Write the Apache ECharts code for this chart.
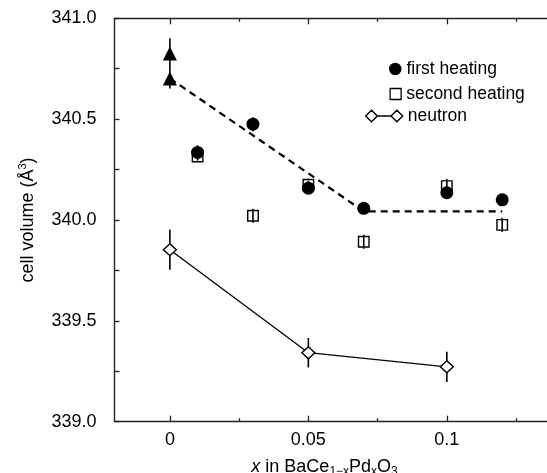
<!DOCTYPE html>
<html>
<head>
<meta charset="utf-8">
<script src="https://cdn.jsdelivr.net/npm/echarts@6/dist/echarts.min.js"></script>
<style>html,body{margin:0;padding:0;background:#fff;}#c{width:547px;height:473px;}</style>
</head>
<body>
<div id="c"></div>
<script>
// ---- data ----
const xMajorTicks = [0, 0.05, 0.1];
const xMinorTicks = [0.025, 0.075, 0.125];
const yTicks = [339.0, 339.5, 340.0, 340.5, 341.0];

const xTriangle = [0, 0];
const triangle = [340.826, 340.702];
const triangleErr = [0.075, 0.05];

const xHeating = [0.01, 0.03, 0.05, 0.07, 0.10, 0.12];
const firstHeating = [340.335, 340.475, 340.158, 340.058, 340.135, 340.100];
const firstErr = [0.035, 0.035, 0.02, 0.02, 0.02, 0.02];
const secondHeating = [340.315, 340.021, 340.175, 339.892, 340.168, 339.976];
const secondErr = [0.02, 0.035, 0.02, 0.035, 0.035, 0.035];

const xNeutron = [0, 0.05, 0.10];
const neutron = [339.853, 339.342, 339.272];
const neutronErr = [0.10, 0.073, 0.075];

const xFit = [0, 0.07, 0.12];
const fit = [340.702, 340.043, 340.043];

// ---- helpers ----
const pairs = (xs, ys) => xs.map((x, i) => [x, ys[i]]);
const triples = (xs, ys, es) => xs.map((x, i) => [x, ys[i], es[i]]);
function errSeries(name, xs, ys, es, z) {
  return {
    type: 'custom', name: name, z: z, silent: true,
    xAxisIndex: 0, yAxisIndex: 0,
    data: triples(xs, ys, es),
    renderItem: function (params, api) {
      const x = api.value(0), y = api.value(1), e = api.value(2);
      const p1 = api.coord([x, y - e]);
      const p2 = api.coord([x, y + e]);
      return { type: 'line', shape: { x1: p1[0], y1: p1[1], x2: p2[0], y2: p2[1] },
               style: { stroke: '#000', lineWidth: 1.6 } };
    }
  };
}

const FONT = '"Liberation Sans", Arial, Helvetica, sans-serif';
const XMIN = -0.02, XMAX = 0.14;
const axisLine = { show: true, onZero: false, lineStyle: { color: '#222', width: 1.4 } };
const legendText = { fontSize: 17.5, color: '#000', fontFamily: FONT, lineHeight: 18 };

const chart = echarts.init(document.getElementById('c'), null, { renderer: 'canvas' });
chart.setOption({
  animation: false,
  backgroundColor: '#fff',
  textStyle: { fontFamily: FONT },
  grid: { left: 114.5, top: 18.3, right: -10.6, bottom: 51.3, containLabel: false, outerBoundsMode: 'none' },
  legend: [
    { data: ['first heating'], orient: 'vertical', left: 389, top: 60, padding: 0,
      icon: 'circle', itemWidth: 12.5, itemHeight: 12.5,
      itemStyle: { color: '#000', opacity: 1 },
      textStyle: legendText },
    { data: ['second heating'], orient: 'vertical', left: 389.5, top: 85, padding: 0,
      icon: 'rect', itemWidth: 11, itemHeight: 11,
      itemStyle: { color: '#fff', borderColor: '#000', borderWidth: 1.3 },
      textStyle: legendText },
    { data: ['neutron'], orient: 'vertical', left: 365, top: 107, padding: 0,
      icon: 'path://M0,6 L6,0 L12,6 L6,12 Z M12,6 L26,6 M26,6 L32,0 L38,6 L32,12 Z',
      itemWidth: 37, itemHeight: 12,
      itemStyle: { color: '#fff', borderColor: '#000', borderWidth: 1.4 },
      lineStyle: { width: 0 },
      textStyle: legendText }
  ],
  xAxis: [
    { type: 'value', position: 'bottom', min: XMIN, max: XMAX,
      axisLine: axisLine, splitLine: { show: false },
      axisTick: { show: true, inside: true, length: 6, customValues: xMajorTicks, lineStyle: { color: '#222', width: 1.3 } },
      axisLabel: { show: true, customValues: xMajorTicks, margin: 9, fontSize: 18, color: '#000', fontFamily: FONT,
                   formatter: v => String(v) },
      name: '{i|x} in BaCe{sub|1−x}Pd{sub|x}O{sub|3}', nameLocation: 'middle', nameGap: 35,
      nameTextStyle: { fontSize: 18, color: '#000', fontFamily: FONT, padding: [0, 23, 0, 0],
        rich: { i: { fontSize: 18, fontStyle: 'italic', color: '#000', fontFamily: FONT },
                sub: { fontSize: 12, color: '#000', fontFamily: FONT, padding: [9, 0, 0, 0] } } } },
    { type: 'value', position: 'bottom', min: XMIN, max: XMAX,
      axisLine: { show: false, onZero: false }, splitLine: { show: false }, axisLabel: { show: false },
      axisTick: { show: true, inside: true, length: 3.5, customValues: xMinorTicks, lineStyle: { color: '#222', width: 1.3 } } },
    { type: 'value', position: 'top', min: XMIN, max: XMAX,
      axisLine: axisLine, splitLine: { show: false }, axisLabel: { show: false },
      axisTick: { show: true, inside: true, length: 6, customValues: xMajorTicks, lineStyle: { color: '#222', width: 1.3 } } },
    { type: 'value', position: 'top', min: XMIN, max: XMAX,
      axisLine: { show: false, onZero: false }, splitLine: { show: false }, axisLabel: { show: false },
      axisTick: { show: true, inside: true, length: 3.5, customValues: xMinorTicks, lineStyle: { color: '#222', width: 1.3 } } }
  ],
  yAxis: [
    { type: 'value', position: 'left', min: 339, max: 341, interval: 0.25,
      axisLine: axisLine, splitLine: { show: false },
      axisTick: { show: true, inside: true, length: 5, lineStyle: { color: '#222', width: 1.3 } },
      axisLabel: { margin: 18, fontSize: 18, color: '#000', fontFamily: FONT,
        formatter: v => (yTicks.some(t => Math.abs(t - v) < 1e-6) ? v.toFixed(1) : '') },
      name: 'cell volume (Å{sup|3})', nameLocation: 'middle', nameGap: 76,
      nameTextStyle: { fontSize: 18, color: '#000', fontFamily: FONT,
        rich: { sup: { fontSize: 11, color: '#000', fontFamily: FONT, padding: [0, 0, 10, 0] } } } }
  ],
  series: [
    { type: 'line', name: 'fit', data: pairs(xFit, fit), symbol: 'none', z: 1, silent: true,
      lineStyle: { color: '#000', width: 2.2, type: [7, 5] } },
    { type: 'line', name: 'neutron', data: pairs(xNeutron, neutron), z: 3,
      symbol: 'diamond', symbolSize: [13, 12],
      lineStyle: { color: '#000', width: 1.3 },
      itemStyle: { color: '#fff', borderColor: '#000', borderWidth: 1.4, opacity: 1 } },
    errSeries('nErr', xNeutron, neutron, neutronErr, 2),
    { type: 'scatter', name: 'second heating', data: pairs(xHeating, secondHeating), z: 4,
      symbol: 'rect', symbolSize: [10.5, 10.5],
      itemStyle: { color: '#fff', borderColor: '#000', borderWidth: 1.4, opacity: 1 } },
    errSeries('sErr', xHeating, secondHeating, secondErr, 5),
    errSeries('fErr', xHeating, firstHeating, firstErr, 5),
    { type: 'scatter', name: 'first heating', data: pairs(xHeating, firstHeating), z: 6,
      symbol: 'circle', symbolSize: 13,
      itemStyle: { color: '#000', opacity: 1 } },
    errSeries('tErr', xTriangle, triangle, triangleErr, 7),
    { type: 'scatter', name: 'triangle', data: pairs(xTriangle, triangle), z: 8,
      symbol: 'triangle', symbolSize: [14, 14],
      itemStyle: { color: '#000', opacity: 1 } }
  ]
});
</script>
</body>
</html>
